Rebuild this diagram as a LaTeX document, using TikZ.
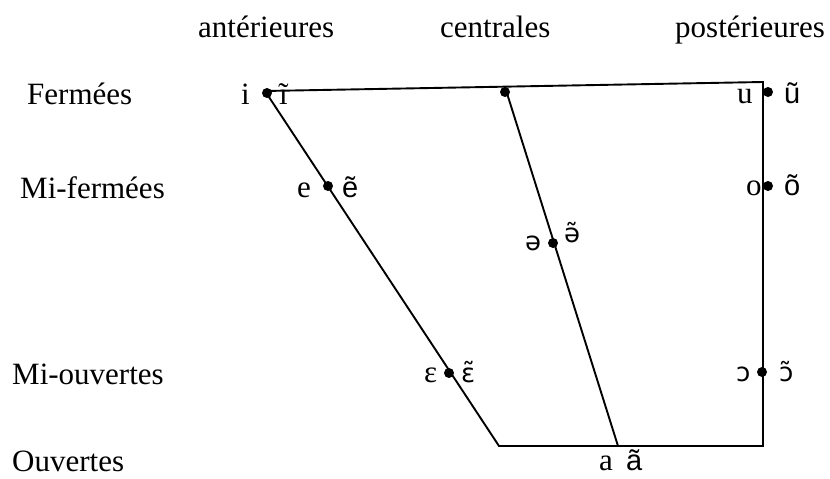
\documentclass[tikz,border=0pt]{standalone}
\usepackage{fontspec}
\setmainfont{Liberation Serif}
\newfontfamily\ipasans{DejaVu Sans}
\newfontfamily\lsans{Liberation Sans}
\begin{document}
\begin{tikzpicture}[x=1pt,y=-1pt,
  lab/.style={anchor=base west, inner sep=0pt, font=\fontsize{31}{31}\selectfont},
  sanslab/.style={anchor=base west, inner sep=0pt, font=\lsans\fontsize{29}{29}\selectfont},
  ipalab/.style={anchor=base west, inner sep=0pt, font=\ipasans\fontsize{26}{26}\selectfont},
  dot/.style={circle, fill=black, inner sep=0pt, minimum size=10pt},
  edge/.style={line width=1.9pt, line join=miter}]
\useasboundingbox (0,0) rectangle (830,479);
% frame corners
\coordinate (TL) at (265,91);
\coordinate (TR) at (763,82);
\coordinate (BR) at (763,446);
\coordinate (BL) at (499,446);
\coordinate (CT) at (505,87);
\coordinate (CB) at (618,446);
\draw[edge] (TL) -- (TR) -- (BR) -- (BL) -- cycle;
\draw[edge] (CT) -- (CB);
% dots
\node[dot] (di) at (267,93) {};
\node[dot] (dc) at (505,92) {};
\node[dot] (du) at (768,92) {};
\node[dot] (de) at (328,186) {};
\node[dot] (do) at (768,186) {};
\node[dot] (dschwa) at (553,243) {};
\node[dot] (deps) at (449,373) {};
\node[dot] (doo) at (762,372) {};
% column headers
\node[lab] (hant) at (198,37) {antérieures};
\node[lab] (hcen) at (440,37) {centrales};
\node[lab] (hpos) at (675,37) {postérieures};
% row labels
\node[lab] (rf) at (27,104) {Fermées};
\node[lab] (rmf) at (20,198) {Mi-fermées};
\node[lab] (rmo) at (12,384) {Mi-ouvertes};
\node[lab] (ro) at (12,471) {Ouvertes};
% vowels
\node[lab] (li) at (241,104) {i};
\node[lab] (lin) at (279,104) {ĩ};
\node[lab] (lu) at (737,103) {u};
\node[sanslab] (lun) at (784,103) {ũ};
\node[lab] (le) at (297,197) {e};
\node[sanslab] (len) at (342,197) {ẽ};
\node[lab] (lo) at (746,195) {o};
\node[sanslab] (lon) at (784,195) {õ};
\node[ipalab] (lschwa) at (525,250) {ə};
\node[ipalab] (lschwan) at (564,242) {ə̃};
\node[lab] (leps) at (424,382) {ɛ};
\node[ipalab] (lepsn) at (461,382) {ɛ̃};
\node[ipalab] (loo) at (736,381) {ɔ};
\node[ipalab] (loon) at (779,381) {ɔ̃};
\node[lab] (la) at (599,470) {a};
\node[sanslab] (lan) at (626,470) {ã};
\end{tikzpicture}
\end{document}
